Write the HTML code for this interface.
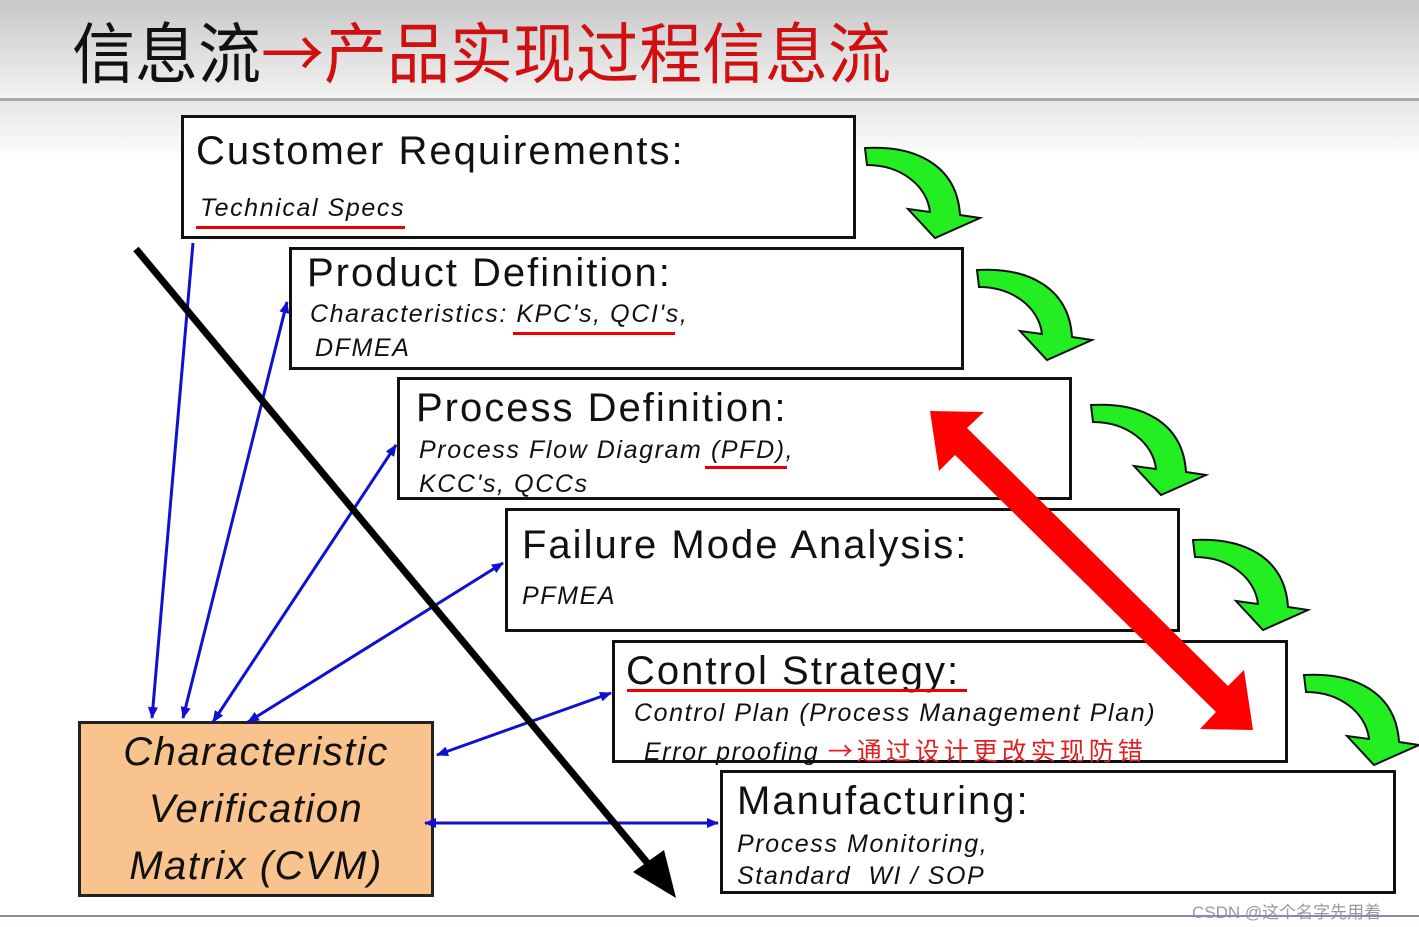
<!DOCTYPE html>
<html><head><meta charset="utf-8"><style>
body{margin:0;width:1419px;height:927px;overflow:hidden;background:#fff;font-family:"Liberation Sans","Noto Sans CJK SC",sans-serif;position:relative}
.hdr{position:absolute;left:0;top:0;width:1419px;height:98px;background:linear-gradient(#c8c8c8,#f2f2f2);border-bottom:3px solid #a8a8a8}
.band{position:absolute;left:0;top:101px;width:1419px;height:60px;background:linear-gradient(#e6e6e6,#fff)}
.ttl{position:absolute;left:72px;top:2px;font-size:63px;letter-spacing:0;color:#111;white-space:nowrap;font-family:"Noto Sans CJK SC",sans-serif;transform:scaleY(1.05);transform-origin:top left}
.ttl span{color:#d01010}
.box{position:absolute;border:3px solid #111;background:#fff;box-sizing:border-box}
.t{position:absolute;font-size:40px;color:#111;white-space:nowrap;letter-spacing:2px}
.s{position:absolute;font-size:25px;font-style:italic;color:#111;white-space:nowrap;letter-spacing:1.6px}
.u{position:absolute;height:3px;background:#e00}
.cvm{position:absolute;left:78px;top:721px;width:356px;height:176px;background:#f9c38e;border:3px solid #222;box-sizing:border-box;text-align:center;font-style:italic;font-size:40px;letter-spacing:1.5px;line-height:57px;padding-top:0px;color:#111}
</style></head><body>
<div class="hdr"></div><div class="band"></div>
<div class="ttl">信息流<span>→产品实现过程信息流</span></div>
<div class="box" style="left:181px;top:115px;width:675px;height:124px"></div>
<div class="box" style="left:289px;top:247px;width:675px;height:123px"></div>
<div class="box" style="left:397px;top:377px;width:675px;height:123px"></div>
<div class="box" style="left:505px;top:508px;width:675px;height:124px"></div>
<div class="box" style="left:612px;top:640px;width:676px;height:123px"></div>
<div class="box" style="left:720px;top:770px;width:676px;height:124px"></div>
<div class="t" style="left:196px;top:129px">Customer Requirements:</div>
<div class="s" style="left:200px;top:194px">Technical Specs</div>
<div class="u" style="left:196px;top:226px;width:209px"></div>
<div class="t" style="left:307px;top:251px">Product Definition:</div>
<div class="s" style="left:310px;top:300px">Characteristics: KPC's, QCI's,</div>
<div class="s" style="left:315px;top:334px">DFMEA</div>
<div class="u" style="left:513px;top:332px;width:162px"></div>
<div class="t" style="left:416px;top:386px">Process Definition:</div>
<div class="s" style="left:419px;top:436px">Process Flow Diagram (PFD),</div>
<div class="s" style="left:419px;top:470px">KCC's, QCCs</div>
<div class="u" style="left:705px;top:466px;width:82px"></div>
<div class="t" style="left:522px;top:523px">Failure Mode Analysis:</div>
<div class="s" style="left:522px;top:582px">PFMEA</div>
<div class="t" style="left:626px;top:649px">Control Strategy:</div>
<div class="u" style="left:627px;top:689px;width:340px"></div>
<div class="s" style="left:634px;top:699px">Control Plan (Process Management Plan)</div>
<div class="s" style="left:644px;top:732px">Error proofing <span style="color:#e02020;font-style:normal;letter-spacing:4px;font-family:'Noto Sans CJK SC',sans-serif">→通过设计更改实现防错</span></div>
<div class="t" style="left:737px;top:779px">Manufacturing:</div>
<div class="s" style="left:737px;top:830px">Process Monitoring,</div>
<div class="s" style="left:737px;top:862px">Standard &nbsp;WI / SOP</div>
<div class="cvm">Characteristic<br>Verification<br>Matrix (CVM)</div>
<div style="position:absolute;left:1192px;top:898px;font-size:17px;color:#999">CSDN @这个名字先用着</div>
<div style="position:absolute;left:0;top:915px;width:1419px;height:2px;background:#8a8ab0"></div>
<svg width="1419" height="927" style="position:absolute;left:0;top:0">
<defs>
<marker id="b" markerWidth="12" markerHeight="10" refX="11" refY="5" orient="auto-start-reverse" markerUnits="userSpaceOnUse"><path d="M0,0 L12,5 L0,10 Z" fill="#1010d0"/></marker>
<path id="g" d="M0,3 C50,0 92,20 95,70 L115,73 L70,93 L43,64 L65,67 C62,40 35,20 2,20 Z" fill="#22ee22" stroke="#111" stroke-width="2"/>
</defs>
<use href="#g" x="865" y="145"/>
<use href="#g" x="977" y="267"/>
<use href="#g" x="1091" y="402"/>
<use href="#g" x="1193" y="537"/>
<use href="#g" x="1304" y="672"/>
<g stroke="#1010d0" stroke-width="3" fill="none">
<line x1="193" y1="243" x2="152" y2="718" marker-end="url(#b)"/>
<line x1="287" y1="302" x2="183" y2="718" marker-start="url(#b)" marker-end="url(#b)"/>
<line x1="396" y1="445" x2="213" y2="722" marker-start="url(#b)" marker-end="url(#b)"/>
<line x1="503" y1="563" x2="248" y2="722" marker-start="url(#b)" marker-end="url(#b)"/>
<line x1="611" y1="693" x2="437" y2="755" marker-start="url(#b)" marker-end="url(#b)"/>
<line x1="718" y1="823" x2="425" y2="823" marker-start="url(#b)" marker-end="url(#b)"/>
</g>
<line x1="136" y1="249" x2="650" y2="866" stroke="#000" stroke-width="7"/>
<path d="M633,872 L676,898 L664,850 Z" fill="#000"/>
<g fill="#ff0000">
<path d="M930,411 L984,412 L967,428 L1228,686 L1244,670 L1253,730 L1200,729 L1216,712 L955,455 L939,471 Z"/>
</g>
</svg>
</body></html>
